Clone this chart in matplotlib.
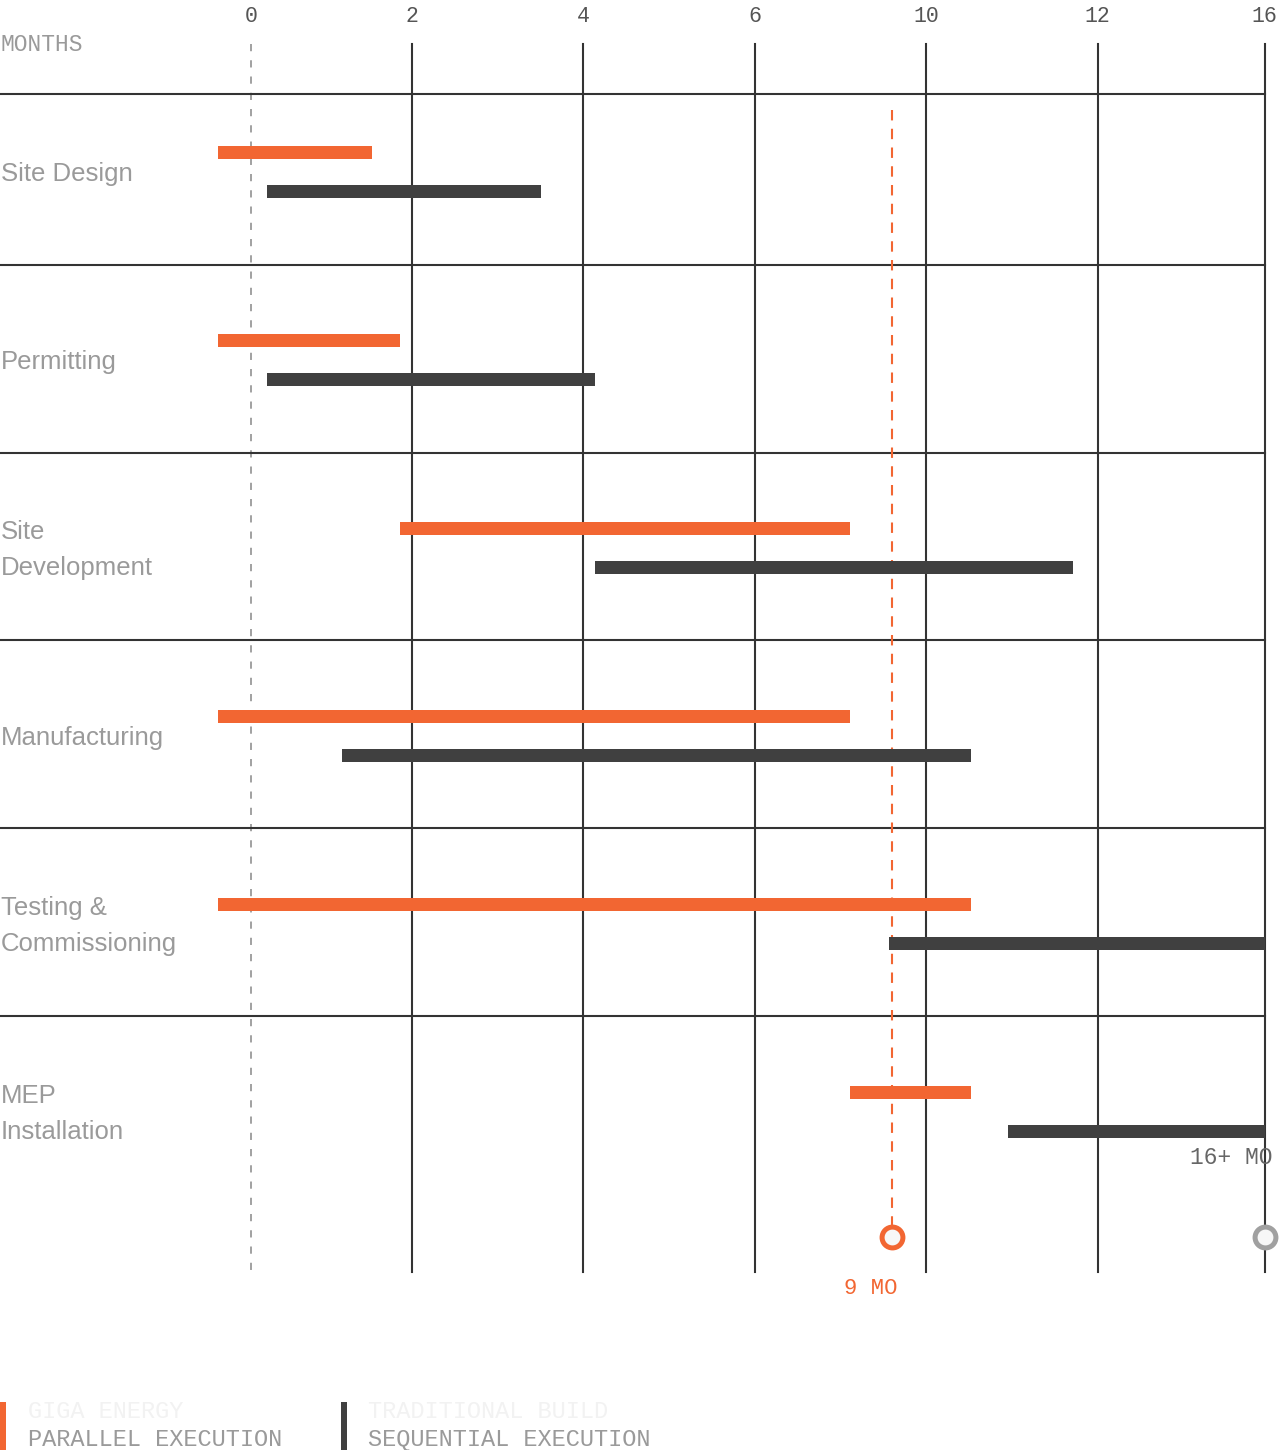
import matplotlib.pyplot as plt

# phases, top to bottom
phases = ["Site Design", "Permitting", "Site\nDevelopment", "Manufacturing",
          "Testing &\nCommissioning", "MEP\nInstallation"]

# timeline units (grid is evenly spaced, labels are not)
giga_start = [-0.26, -0.26, 1.87, -0.26, -0.26, 7.11]
giga_end = [1.54, 1.87, 7.11, 7.11, 8.52, 8.52]
trad_start = [0.31, 0.31, 4.14, 1.19, 7.57, 8.96]
trad_end = [3.51, 4.14, 9.71, 8.52, 11.95, 11.95]

tick_pos = [0.13, 2, 4, 6, 8, 10, 11.95]
tick_labels = ["0", "2", "4", "6", "10", "12", "16"]

giga_finish = 7.6
trad_finish = 11.95

ORANGE = "#f26632"
DARK = "#404040"
GREY = "#9a9a9a"
LINE = "#333333"
MONO = "Liberation Mono"
SANS = "Liberation Sans"

fig = plt.figure(figsize=(12.8, 14.5), dpi=100)
ax = fig.add_axes([0, 0, 1, 1])
ax.set_xlim(-2.799, 12.128)
ax.set_ylim(6.904, -0.809)
ax.axis("off")

n = len(phases)
y_top = -0.574
y_bot = 5.957

# vertical grid lines
for p, lab in zip(tick_pos, tick_labels):
    if lab == "0":
        ax.plot([p, p], [y_top, y_bot], color=GREY, lw=1.3, dashes=[4, 5], zorder=1)
    else:
        ax.plot([p, p], [y_top, y_bot], color=LINE, lw=1.5, zorder=1)
    ax.text(p, -0.723, lab, ha="center", va="center", fontsize=15.5,
            family=MONO, color="#555555")

ax.text(-2.799, -0.574, "MONTHS", ha="left", va="center", fontsize=16.5,
        family=MONO, color=GREY)

# row separators
seps = [-0.309] + [i + 0.598 for i in range(n - 1)]
for s in seps:
    ax.plot([-2.799, tick_pos[-1]], [s, s], color=LINE, lw=1.5, zorder=1)

# bars
h = 0.069
off = 0.2074
for i in range(n):
    ax.barh(i, giga_end[i] - giga_start[i], left=giga_start[i], height=h,
            color=ORANGE, zorder=3)
    ax.barh(i + off, trad_end[i] - trad_start[i], left=trad_start[i], height=h,
            color=DARK, zorder=3)
    ax.text(-2.79, i + off / 2 + 0.012, phases[i], ha="left", va="center",
            fontsize=18.5, family=SANS, color=GREY, linespacing=1.6)

# finish markers
ax.plot([trad_finish, trad_finish], [-0.223, 5.77], color=GREY, lw=1.3,
        dashes=[4, 5], zorder=0)
ax.plot([giga_finish, giga_finish], [-0.223, 5.77], color=ORANGE, lw=1.5,
        dashes=[5, 4], zorder=2)
ax.plot(giga_finish, 5.77, "o", ms=15, mew=3.6, mec=ORANGE, mfc="#f7f7f7", zorder=5)
ax.plot(trad_finish, 5.77, "o", ms=15, mew=3.6, mec="#a0a0a0", mfc="#f7f7f7", zorder=5)

ax.text(7.35, 6.045, "9 MO", ha="center", va="center", fontsize=16,
        family=MONO, color=ORANGE)
ax.text(12.04, 5.346, "16+ MO", ha="right", va="center", fontsize=16.5,
        family=MONO, color="#666666")

# legend at the bottom
ax.barh(6.777, 6 / 85.75, left=-2.799, height=48 / 188, color=ORANGE)
ax.barh(6.777, 6 / 85.75, left=(341 - 240) / 85.75, height=48 / 188, color=DARK)
ax.text((28 - 240) / 85.75, 6.697, "GIGA ENERGY", ha="left", va="center",
        fontsize=17, family=MONO, color="#f2f2f2")
ax.text((28 - 240) / 85.75, 6.846, "PARALLEL EXECUTION", ha="left", va="center",
        fontsize=17, family=MONO, color=GREY)
ax.text((368 - 240) / 85.75, 6.697, "TRADITIONAL BUILD", ha="left", va="center",
        fontsize=17, family=MONO, color="#f2f2f2")
ax.text((368 - 240) / 85.75, 6.846, "SEQUENTIAL EXECUTION", ha="left", va="center",
        fontsize=17, family=MONO, color=GREY)

fig.savefig("out.png", dpi=100)
